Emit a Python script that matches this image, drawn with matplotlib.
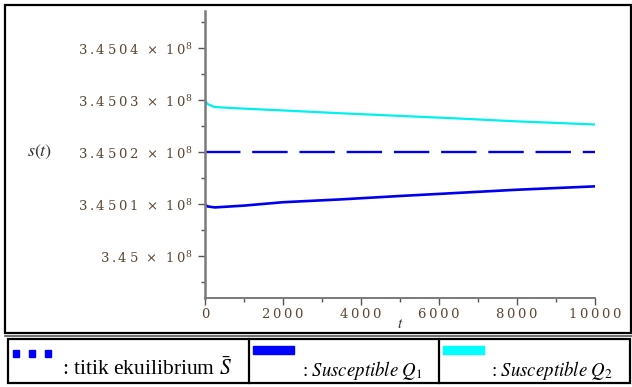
import matplotlib.pyplot as plt
from matplotlib.patches import Rectangle
from matplotlib.lines import Line2D
from matplotlib.ticker import FixedLocator, FuncFormatter

plt.rcParams['mathtext.fontset'] = 'stix'

# data
t = [0, 60, 250, 1000, 2000, 3500, 5000, 6500, 8000, 10000]
s_q2 = [345030000, 345029300, 345028700, 345028400, 345028050,
        345027500, 345027000, 345026500, 345025950, 345025350]
s_q1 = [345010000, 345009600, 345009400, 345009750, 345010400,
        345010950, 345011600, 345012200, 345012800, 345013450]
s_eq = 345020000
y_ticks = [345000000, 345010000, 345020000, 345030000, 345040000]
y_tick_labels = ["3.45", "3.4501", "3.4502", "3.4503", "3.4504"]
x_ticks = [0, 2000, 4000, 6000, 8000, 10000]

W, H = 632, 387
fig = plt.figure(figsize=(W / 100, H / 100), dpi=100)


def box(x0, y0, x1, y1):
    # pixel box -> figure fraction [left, bottom, width, height]
    return [x0 / W, 1 - y1 / H, (x1 - x0) / W, (y1 - y0) / H]


def spaced(s):
    # Maple draws its tick labels with wide letter spacing
    return "\u2009".join(s)


ax = fig.add_axes(box(205, 10.7, 595, 298.3))
ax.plot(t, s_q2, color='#00f0f0', lw=1.6)
ax.plot(t, s_q1, color='#0000ee', lw=1.9)
ax.axhline(s_eq, color='#0000ee', lw=1.7, dashes=(15, 5))

ax.set_xlim(0, 10000)
ax.set_ylim(344991923, 345047231)
for side in ['top', 'right']:
    ax.spines[side].set_visible(False)
for side in ['left', 'bottom']:
    ax.spines[side].set_color('#7a7a7a')
ax.spines['left'].set_linewidth(1.8)
ax.spines['bottom'].set_linewidth(1.4)

tick_col = '#5a4632'
ax.yaxis.set_major_locator(FixedLocator(y_ticks))
ax.yaxis.set_minor_locator(FixedLocator([v + 5000 for v in y_ticks[:-1]] + [344995000, 345045000]))
ax.yaxis.set_major_formatter(FuncFormatter(
    lambda v, pos: spaced(y_tick_labels[y_ticks.index(round(v))]) + "  \u00d7  " + spaced("10") + r"$^{8}$"))
ax.xaxis.set_major_locator(FixedLocator(x_ticks))
ax.xaxis.set_minor_locator(FixedLocator([1000, 3000, 5000, 7000, 9000]))
ax.xaxis.set_major_formatter(FuncFormatter(lambda v, pos: spaced(str(int(v)))))
ax.tick_params(axis='both', which='major', length=5, width=1, color='#555555',
               labelsize=9.5, labelcolor=tick_col, direction='out')
ax.tick_params(axis='both', which='minor', length=3, width=1, color='#555555')
ax.tick_params(axis='y', pad=4)
ax.tick_params(axis='x', pad=2)
for lab in ax.get_xticklabels() + ax.get_yticklabels():
    lab.set_family('DejaVu Serif')
    lab.set_math_fontfamily('dejavuserif')

fig.text(40 / W, 1 - 152 / H, r"$s(t)$", fontsize=13, color='#333333',
         ha='center', va='center')
fig.text(400 / W, 1 - 323 / H, r"$t$", fontsize=11, color='#333333',
         ha='center', va='center')

# outer frame of the chart
fig.patches.append(Rectangle((4.5 / W, 1 - 333 / H), 626 / W, 328.5 / H,
                             transform=fig.transFigure, fill=False,
                             ec='black', lw=1.6))
fig.lines.append(Line2D([4.5 / W, 1], [1 - 335.5 / H] * 2,
                        transform=fig.transFigure, color='#555555', lw=1.2))

# legend table
fig.patches.append(Rectangle((8 / W, 1 - 383 / H), 622 / W, 44 / H,
                             transform=fig.transFigure, fill=False,
                             ec='black', lw=1.6))
for xd in [249, 439]:
    fig.lines.append(Line2D([xd / W] * 2, [1 - 339 / H, 1 - 383 / H],
                            transform=fig.transFigure, color='black', lw=1.6))
for xs in [13, 29, 45]:
    fig.patches.append(Rectangle((xs / W, 1 - 357 / H), 6 / W, 7 / H,
                                 transform=fig.transFigure, color='#0000ff'))
fig.patches.append(Rectangle((253 / W, 1 - 354 / H), 41 / W, 8 / H,
                             transform=fig.transFigure, color='#0000ff'))
fig.patches.append(Rectangle((443 / W, 1 - 354 / H), 41 / W, 8 / H,
                             transform=fig.transFigure, color='#00ffff'))

fig.text(232 / W, 1 - 369 / H, r": titik ekuilibrium $\bar{S}$",
         family='Liberation Serif', fontsize=15.5, ha='right', va='center')
fig.text(423 / W, 1 - 371 / H, r": $\mathit{Susceptible}\ Q_1$",
         family='Liberation Serif', fontsize=13.5, ha='right', va='center')
fig.text(613 / W, 1 - 371 / H, r": $\mathit{Susceptible}\ Q_2$",
         family='Liberation Serif', fontsize=13.5, ha='right', va='center')

fig.savefig('out.png', dpi=100)
